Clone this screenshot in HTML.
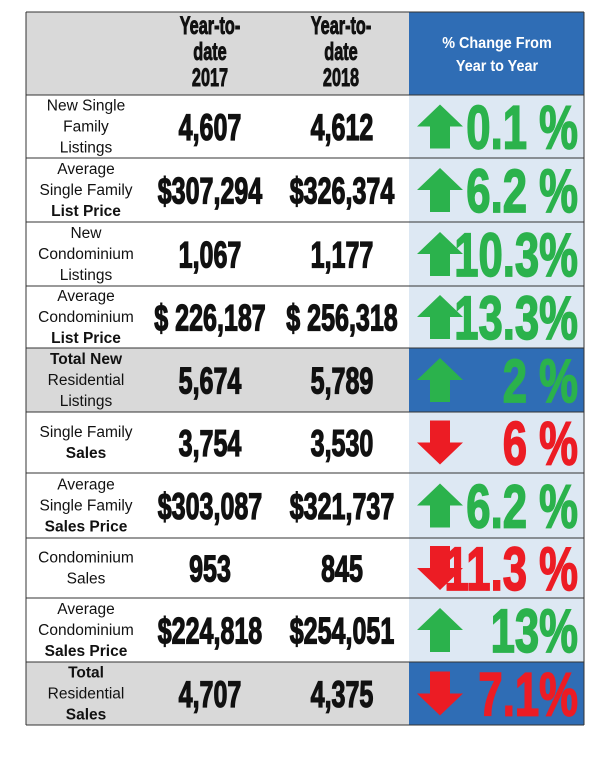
<!DOCTYPE html>
<html><head><meta charset="utf-8"><style>
body{margin:0;background:#fff;width:612px;height:763px;overflow:hidden}
svg{display:block}
.lab{font-family:"Liberation Sans",sans-serif;font-size:15.5px;fill:#111}
.num{font-family:"Liberation Sans",sans-serif;font-weight:bold;font-size:33px;fill:#111;stroke:#111;stroke-width:1.2}
.pct{font-family:"Liberation Sans",sans-serif;font-weight:bold;font-size:56px;stroke-width:1.5}
.hd{font-family:"Liberation Sans",sans-serif;font-weight:bold;font-size:22px;fill:#111;stroke:#111;stroke-width:0.8}
.hd2{font-family:"Liberation Sans",sans-serif;font-weight:bold;font-size:16px;fill:#fff}
</style></head><body>
<svg id="t" width="612" height="763"></svg>
<script>
const labels=[["New Single","Family","Listings"],["Average","Single Family","*List Price"],["New","Condominium","Listings"],["Average","Condominium","*List Price"],["*Total New","Residential","Listings"],["Single Family","*Sales"],["Average","Single Family","*Sales Price"],["Condominium","Sales"],["Average","Condominium","*Sales Price"],["*Total","Residential","*Sales"]];
const vals2017=["4,607","$307,294","1,067","$ 226,187","5,674","3,754","$303,087","953","$224,818","4,707"];
const vals2018=["4,612","$326,374","1,177","$ 256,318","5,789","3,530","$321,737","845","$254,051","4,375"];
const changes=["0.1 %","6.2 %","10.3%","13.3%","2 %","6 %","6.2 %","11.3 %","13%","7.1%"];
const up=[true,true,true,true,true,false,true,false,true,false];
const highlight=[false,false,false,false,true,false,false,false,false,true];
const rowTops=[95,158,222,286,348,412,473,538,598,662,725];
const svg=document.getElementById('t');const NS='http://www.w3.org/2000/svg';
function el(tag,a,txt){const e=document.createElementNS(NS,tag);for(const k in a)e.setAttribute(k,a[k]);if(txt!=null)e.textContent=txt;svg.appendChild(e);return e;}
function squeeze(t,f){const w=t.getComputedTextLength();t.setAttribute('textLength',(w*f).toFixed(1));t.setAttribute('lengthAdjust','spacingAndGlyphs');}
const X0=26,X1=145,X2=276,X3=409,X4=584;
let h=el('rect',{x:X0,y:12,width:X3-X0,height:83,fill:'#d9d9d9'});


let hb=el('rect',{x:X3,y:12,width:X4-X3,height:83,fill:'#2f6db5'});


[["Year-to-","date","2017",210],["Year-to-","date","2018",341]].forEach((c,i)=>{
  c.slice(0,3).forEach((s,j)=>{const t=el('text',{x:c[3],y:33+j*26,'text-anchor':'middle',class:'hd',transform:`translate(0,${25+j*26}) scale(1,1.15) translate(0,${-25-j*26})`},s);
  squeeze(t,0.74);
  
  });
});
["% Change From","Year to Year"].forEach((s,j)=>{const t=el('text',{x:497,y:48+j*23,'text-anchor':'middle',class:'hd2'},s);
squeeze(t,0.9);

});
for(let i=0;i<labels.length;i++){
  const y0=rowTops[i],y1=rowTops[i+1],hh=y1-y0,cy=(y0+y1)/2;
  const r=el('rect',{x:X0,y:y0,width:X3-X0,height:hh,fill:highlight[i]?'#d9d9d9':'#fff'});
  
  
  const c=el('rect',{x:X3,y:y0,width:X4-X3,height:hh,fill:highlight[i]?'#2f6db5':'#dde8f3'});
  
  
  const L=labels[i],n=L.length;
  L.forEach((s,j)=>{let b=s[0]=='*';if(b)s=s.slice(1);
    const t=el('text',{x:86,y:cy+5+(j-(n-1)/2)*21,'text-anchor':'middle',class:'lab','font-weight':b?'bold':'normal'},s);
    
    });
  const tf=`translate(0,${cy}) scale(1,1.12) translate(0,${-cy})`;
  const a=el('text',{x:210,y:cy+12,'text-anchor':'middle',class:'num',transform:tf},vals2017[i]);
  squeeze(a,0.76);
  
  
  const b=el('text',{x:342,y:cy+12,'text-anchor':'middle',class:'num',transform:tf},vals2018[i]);
  squeeze(b,0.76);
  
  
  const col=up[i]?'#2bb24c':'#ec1c24';
  const p=el('text',{x:578,y:cy+20,'text-anchor':'end',class:'pct',fill:col,stroke:col,transform:`translate(0,${cy}) scale(1,1.1) translate(0,${-cy})`},changes[i]);
  squeeze(p,0.78);
  
  
  const ax=440;let pts;
  if(up[i])pts=`${ax},${cy-22} ${ax+23},${cy} ${ax+10},${cy} ${ax+10},${cy+22} ${ax-10},${cy+22} ${ax-10},${cy} ${ax-23},${cy}`;
  else pts=`${ax},${cy+22} ${ax+23},${cy} ${ax+10},${cy} ${ax+10},${cy-22} ${ax-10},${cy-22} ${ax-10},${cy} ${ax-23},${cy}`;
  const ar=el('polygon',{points:pts,fill:col});
  
  
}
rowTops.concat([12]).forEach(y=>{el('line',{x1:X0,x2:X4,y1:y,y2:y,stroke:'#333','stroke-width':1});});
[X0,X4].forEach(x=>el('line',{x1:x,x2:x,y1:12,y2:725,stroke:'#333','stroke-width':1}));
</script>
</body></html>
